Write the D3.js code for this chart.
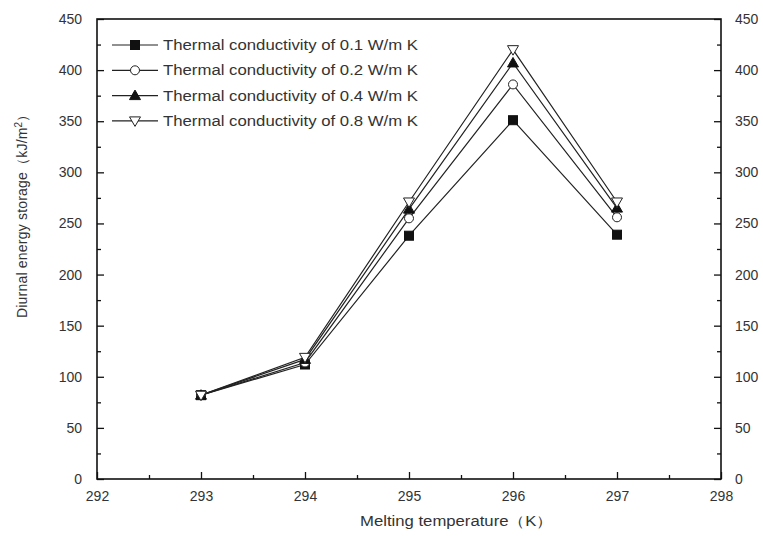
<!DOCTYPE html>
<html>
<head>
<meta charset="utf-8">
<script src="https://cdn.jsdelivr.net/npm/d3@7.9.0/dist/d3.min.js"></script>
<style>
  body { margin: 0; background: #fff; }
  svg text { font-family: "Liberation Sans", Arial, sans-serif; fill: #333; }
</style>
</head>
<body>
<svg id="chart" width="763" height="536"></svg>
<script>
// data
const temps = [293, 294, 295, 296, 297];
const k01 = [82, 112, 238, 351, 239];
const k02 = [82, 114, 255, 386, 256];
const k04 = [82, 117, 264, 407, 265];
const k08 = [82, 119, 271, 420, 271];
const seriesNames = [
  'Thermal conductivity of 0.1 W/m K',
  'Thermal conductivity of 0.2 W/m K',
  'Thermal conductivity of 0.4 W/m K',
  'Thermal conductivity of 0.8 W/m K'
];
const xTicks = [292, 293, 294, 295, 296, 297, 298];
const yTicks = [0, 50, 100, 150, 200, 250, 300, 350, 400, 450];

const series = [
  { name: seriesNames[0], values: k01, shape: 'square' },
  { name: seriesNames[1], values: k02, shape: 'circle' },
  { name: seriesNames[2], values: k04, shape: 'triUp' },
  { name: seriesNames[3], values: k08, shape: 'triDown' }
];

const svg = d3.select('#chart');
const plotL = 97, plotR = 721, plotT = 19, plotB = 479;

const x = d3.scaleLinear().domain([292, 298]).range([plotL, plotR]);
const y = d3.scaleLinear().domain([0, 450]).range([plotB, plotT]);

// axes (ticks pointing inward)
const minorX = d3.range(292.5, 298, 1);
const minorY = d3.range(25, 450, 50);

svg.append('g').attr('transform', `translate(0,${plotB})`)
  .call(d3.axisBottom(x).tickValues(minorX).tickSize(-4).tickFormat(''))
  .call(g => g.select('.domain').remove());
svg.append('g').attr('transform', `translate(0,${plotB})`)
  .call(d3.axisBottom(x).tickValues(xTicks).tickSize(-7).tickPadding(12).tickFormat(d3.format('d')))
  .call(g => g.select('.domain').remove());

svg.append('g').attr('transform', `translate(${plotL},0)`)
  .call(d3.axisLeft(y).tickValues(minorY).tickSize(-4).tickFormat(''))
  .call(g => g.select('.domain').remove());
svg.append('g').attr('transform', `translate(${plotL},0)`)
  .call(d3.axisLeft(y).tickValues(yTicks).tickSize(-7).tickPadding(15))
  .call(g => g.select('.domain').remove());

svg.append('g').attr('transform', `translate(${plotR},0)`)
  .call(d3.axisRight(y).tickValues(minorY).tickSize(-4).tickFormat(''))
  .call(g => g.select('.domain').remove());
svg.append('g').attr('transform', `translate(${plotR},0)`)
  .call(d3.axisRight(y).tickValues(yTicks).tickSize(-7).tickPadding(14))
  .call(g => g.select('.domain').remove());

svg.selectAll('.tick line').attr('stroke', '#111').attr('stroke-width', 1.3);
svg.selectAll('.tick text').style('font-size', '14px').attr('fill', '#333');

// frame
svg.append('rect')
  .attr('x', plotL).attr('y', plotT)
  .attr('width', plotR - plotL).attr('height', plotB - plotT)
  .attr('fill', 'none').attr('stroke', '#111').attr('stroke-width', 1.6);

// marker drawing
function marker(g, shape, cx, cy) {
  if (shape === 'square') {
    g.append('rect').attr('x', cx - 4.5).attr('y', cy - 4.5).attr('width', 9).attr('height', 9)
      .attr('fill', '#111').attr('stroke', '#111');
  } else if (shape === 'circle') {
    g.append('circle').attr('cx', cx).attr('cy', cy).attr('r', 4.5)
      .attr('fill', '#fff').attr('stroke', '#222').attr('stroke-width', 1);
  } else if (shape === 'triUp') {
    g.append('path').attr('d', `M${cx},${cy - 5.5}L${cx + 5.5},${cy + 4}L${cx - 5.5},${cy + 4}Z`)
      .attr('fill', '#111').attr('stroke', '#111');
  } else {
    g.append('path').attr('d', `M${cx - 5.5},${cy - 4}L${cx + 5.5},${cy - 4}L${cx},${cy + 5.5}Z`)
      .attr('fill', '#fff').attr('stroke', '#222').attr('stroke-width', 1);
  }
}

const line = d3.line().x((d, i) => x(temps[i])).y(d => y(d));

series.forEach(s => {
  svg.append('path')
    .attr('d', line(s.values))
    .attr('fill', 'none')
    .attr('stroke', '#222')
    .attr('stroke-width', 1.2);
});
series.forEach(s => {
  const g = svg.append('g');
  s.values.forEach((v, i) => marker(g, s.shape, x(temps[i]), y(v)));
});

// legend
const legend = svg.append('g');
series.forEach((s, i) => {
  const ly = 45 + i * 25.3;
  legend.append('line').attr('x1', 112).attr('x2', 158).attr('y1', ly).attr('y2', ly)
    .attr('stroke', '#222').attr('stroke-width', 1.2);
  marker(legend, s.shape, 135, ly);
  legend.append('text').attr('x', 163).attr('y', ly + 5)
    .attr('textLength', 255).attr('lengthAdjust', 'spacingAndGlyphs')
    .style('font-size', '14px').text(s.name);
});

// axis titles
svg.append('text')
  .attr('x', 360).attr('y', 526)
  .attr('textLength', 193).attr('lengthAdjust', 'spacingAndGlyphs')
  .style('font-size', '14px')
  .text('Melting temperature（K）');

const yt = svg.append('text')
  .attr('transform', 'translate(27,318) rotate(-90)')
  .style('font-size', '14px')
  .style('letter-spacing', '0.2px');
yt.append('tspan').text('Diurnal energy storage（kJ/m');
yt.append('tspan').attr('dy', -5).style('font-size', '10px').text('2');
yt.append('tspan').attr('dy', 5).text('）');
</script>
</body>
</html>
